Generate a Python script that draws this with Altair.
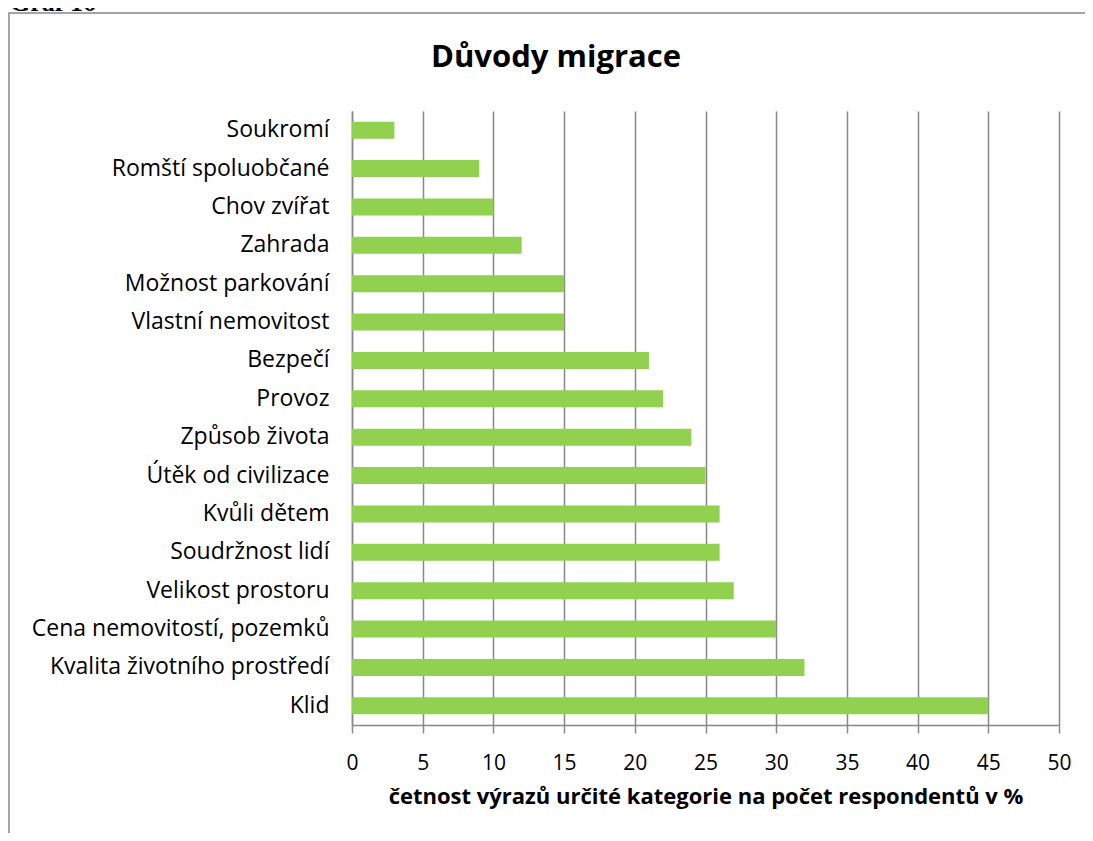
import altair as alt
import pandas as pd

categories = [
    "Soukromí",
    "Romští spoluobčané",
    "Chov zvířat",
    "Zahrada",
    "Možnost parkování",
    "Vlastní nemovitost",
    "Bezpečí",
    "Provoz",
    "Způsob života",
    "Útěk od civilizace",
    "Kvůli dětem ",
    "Soudržnost lidí",
    "Velikost prostoru",
    "Cena nemovitostí, pozemků",
    "Kvalita životního prostředí ",
    "Klid",
]
values = [3, 9, 10, 12, 15, 15, 21, 22, 24, 25, 26, 26, 27, 30, 32, 45]
x_ticks = [0, 5, 10, 15, 20, 25, 30, 35, 40, 45, 50]

chart_title = "Důvody migrace"
x_title = "četnost výrazů určité kategorie na počet respondentů v %"
header = "Graf 16"

df = pd.DataFrame({"kategorie": categories, "hodnota": values})

GRAY = "#888888"
FONT = "Open Sans"

bars = alt.Chart(df).mark_bar(color="#92D050").encode(
    x=alt.X(
        "hodnota:Q",
        scale=alt.Scale(domain=[0, 50], nice=False),
        axis=alt.Axis(
            values=x_ticks,
            title=x_title,
            grid=True,
            gridColor=GRAY,
            gridWidth=1.5,
            domainColor=GRAY,
            domainWidth=1.5,
            tickColor=GRAY,
            tickWidth=1.5,
            tickSize=8,
            labelFlush=False,
            labelFont=FONT,
            labelFontSize=21,
            labelColor="#000000",
            labelPadding=19,
            titleFont=FONT,
            titleFontSize=22,
            titleFontWeight="bold",
            titleColor="#000000",
            titlePadding=13,
        ),
    ),
    y=alt.Y(
        "kategorie:N",
        sort=categories,
        scale=alt.Scale(paddingInner=0.56, paddingOuter=0.28),
        axis=alt.Axis(
            title=None,
            ticks=False,
            grid=False,
            domainColor=GRAY,
            domainWidth=1.5,
            labelFont=FONT,
            labelFontSize=23,
            labelColor="#000000",
            labelPadding=23,
            labelLimit=500,
        ),
    ),
)

border = alt.Chart(alt.Data(values=[{}])).mark_rect(
    fillOpacity=0, stroke=GRAY, strokeWidth=1.5
).encode(
    x=alt.value(-343), x2=alt.value(900), y=alt.value(-98), y2=alt.value(900)
)

head = alt.Chart(alt.Data(values=[{}])).mark_text(
    text=header, font="Liberation Serif", fontSize=26, fontWeight="bold",
    align="left", baseline="alphabetic", color="#000000"
).encode(x=alt.value(-342), y=alt.value(-100))

title_mark = alt.Chart(alt.Data(values=[{}])).mark_text(
    text=chart_title, font=FONT, fontSize=31, fontWeight="bold",
    align="center", baseline="alphabetic", color="#000000"
).encode(x=alt.value(204), y=alt.value(-44))

chart = alt.layer(border, head, title_mark, bars).properties(
    width=707,
    height=614,
    padding={"left": 344, "top": 103, "right": 26, "bottom": 108},
    autosize=alt.AutoSizeParams(type="none"),
).configure_view(strokeWidth=0)

chart.save("out.html", embed_options={"renderer": "svg", "actions": False})
